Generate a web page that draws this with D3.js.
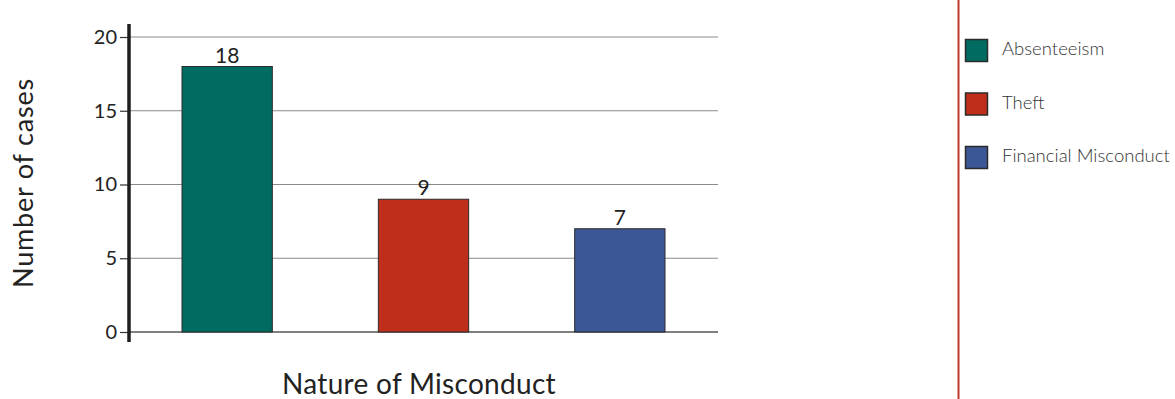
<!DOCTYPE html>
<html>
<head>
<meta charset="utf-8">
<script src="https://cdn.jsdelivr.net/npm/d3@7"></script>
<style>
  html, body { margin: 0; padding: 0; background: #fff; }
  svg { display: block; font-family: Lato, "Open Sans", sans-serif; }
</style>
</head>
<body>
<svg id="chart" width="1175" height="399"></svg>
<script>
// Misconduct cases by type
const categories = ["Absenteeism", "Theft", "Financial Misconduct"];
const cases = [18, 9, 7];
const colors = ["#006b61", "#bf2e1a", "#3c5795"];
const yTicks = [0, 5, 10, 15, 20];

const svg = d3.select("#chart");

const x = d3.scaleBand()
  .domain(categories)
  .range([129, 718])
  .paddingInner(0.54)
  .paddingOuter(0.27);

const y = d3.scaleLinear()
  .domain([0, 20])
  .range([332, 37]);

// horizontal gridlines
svg.append("g")
  .selectAll("line")
  .data(yTicks.filter(d => d > 0))
  .join("line")
  .attr("x1", 129).attr("x2", 718)
  .attr("y1", d => y(d)).attr("y2", d => y(d))
  .attr("stroke", "#8a8a8a")
  .attr("stroke-width", 1);

// baseline
svg.append("line")
  .attr("x1", 129).attr("x2", 718)
  .attr("y1", y(0)).attr("y2", y(0))
  .attr("stroke", "#555")
  .attr("stroke-width", 1.5);

// bars
svg.append("g")
  .selectAll("rect")
  .data(categories)
  .join("rect")
  .attr("x", d => x(d))
  .attr("y", (d, i) => y(cases[i]))
  .attr("width", x.bandwidth())
  .attr("height", (d, i) => y(0) - y(cases[i]))
  .attr("fill", (d, i) => colors[i])
  .attr("stroke", "#2b2b2b")
  .attr("stroke-width", 1);

// value labels
svg.append("g")
  .selectAll("text")
  .data(categories)
  .join("text")
  .attr("x", d => x(d) + x.bandwidth() / 2)
  .attr("y", (d, i) => y(cases[i]) - 4)
  .attr("text-anchor", "middle")
  .attr("font-size", 21)
  .attr("fill", "#222")
  .text((d, i) => cases[i]);

// y axis
const yAxis = d3.axisLeft(y)
  .tickValues(yTicks)
  .tickSize(9)
  .tickPadding(3)
  .tickFormat(d3.format("d"));

const ya = svg.append("g")
  .attr("transform", "translate(129,0)")
  .call(yAxis);
ya.select(".domain").remove();
ya.selectAll(".tick line").attr("stroke", "#333").attr("stroke-width", 1.2);
ya.selectAll(".tick text")
  .attr("font-size", 20)
  .attr("font-family", "Lato, sans-serif")
  .attr("fill", "#222");

// thick vertical axis bar
svg.append("line")
  .attr("x1", 129).attr("x2", 129)
  .attr("y1", 24).attr("y2", 342)
  .attr("stroke", "#1e1e1e")
  .attr("stroke-width", 3.5);

// axis titles
svg.append("text")
  .attr("transform", "translate(33,183) rotate(-90)")
  .attr("text-anchor", "middle")
  .attr("font-size", 27)
  .attr("letter-spacing", 0.8)
  .attr("fill", "#222")
  .text("Number of cases");

svg.append("text")
  .attr("x", 419)
  .attr("y", 394)
  .attr("text-anchor", "middle")
  .attr("font-size", 28)
  .attr("letter-spacing", 0.3)
  .attr("fill", "#222")
  .text("Nature of Misconduct");

// legend divider
svg.append("line")
  .attr("x1", 958.5).attr("x2", 958.5)
  .attr("y1", 0).attr("y2", 399)
  .attr("stroke", "#c0392b")
  .attr("stroke-width", 2);

// legend
const legend = svg.append("g")
  .selectAll("g")
  .data(categories)
  .join("g")
  .attr("transform", (d, i) => `translate(965,${39 + i * 53.5})`);

legend.append("rect")
  .attr("x", 0.5).attr("y", 0.5)
  .attr("width", 22).attr("height", 22)
  .attr("fill", (d, i) => colors[i])
  .attr("stroke", "#2b2b2b")
  .attr("stroke-width", 1.5);

legend.append("text")
  .attr("x", 37)
  .attr("y", 16)
  .attr("font-size", 18.5)
  .attr("font-weight", 300)
  .attr("fill", "#333")
  .text(d => d);
</script>
</body>
</html>
